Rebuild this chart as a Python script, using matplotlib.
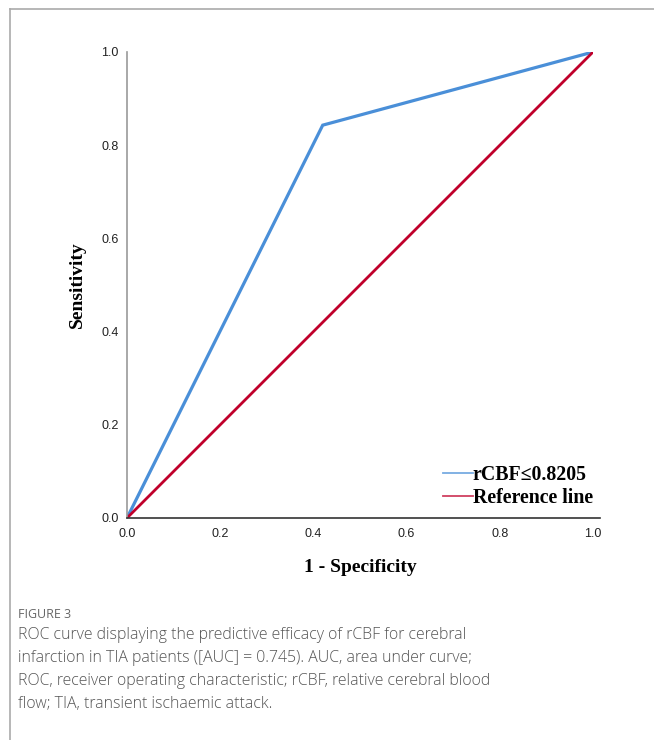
import matplotlib
matplotlib.use("Agg")
import matplotlib.pyplot as plt
from matplotlib.lines import Line2D

# ROC points
fpr = [0.0, 0.42, 1.0]
tpr = [0.0, 0.843, 1.0]
ref_x = [0.0, 1.0]
ref_y = [0.0, 1.0]
ticks = [0.0, 0.2, 0.4, 0.6, 0.8, 1.0]
tick_labels = ["0.0", "0.2", "0.4", "0.6", "0.8", "1.0"]

caption_head = "FIGURE 3"
caption_body = ("ROC curve displaying the predictive efficacy of rCBF for cerebral\n"
                "infarction in TIA patients ([AUC] = 0.745). AUC, area under curve;\n"
                "ROC, receiver operating characteristic; rCBF, relative cerebral blood\n"
                "flow; TIA, transient ischaemic attack.")

fig = plt.figure(figsize=(6.54, 7.4), dpi=100, facecolor='w')
ax = fig.add_axes([127/654, 1-518/740, 466/654, 466/740])

ax.plot(fpr, tpr, color='#4a8fd8', lw=2.3, label='rCBF\u22640.8205', solid_joinstyle='miter')
ax.plot(ref_x, ref_y, color='#c0002b', lw=2.0, label='Reference line')

ax.set_xlim(0, 1)
ax.set_ylim(0, 1)
ax.set_xticks(ticks)
ax.set_xticklabels(tick_labels)
ax.set_yticks(ticks)
ax.set_yticklabels(tick_labels)
ax.tick_params(length=0, labelsize=9, colors='#222222')
ax.tick_params(axis='x', pad=7)
ax.tick_params(axis='y', pad=6)
for lab in ax.get_xticklabels() + ax.get_yticklabels():
    lab.set_family('Liberation Sans')

for spine in ('top', 'right'):
    ax.spines[spine].set_visible(False)
ax.spines['left'].set_color('#999999')
ax.spines['left'].set_linewidth(1.2)
ax.spines['bottom'].set_color('#333333')
ax.spines['bottom'].set_linewidth(1.2)
ax.spines['bottom'].set_bounds(0, 1.015)

ax.set_xlabel('1 - Specificity', family='Liberation Serif', fontweight='bold',
              fontsize=14, labelpad=14)
ax.set_ylabel('Sensitivity', family='Liberation Serif', fontweight='bold',
              fontsize=14, labelpad=11)

leg = ax.legend(loc='lower right', bbox_to_anchor=(1.0, 0.022), frameon=False,
                prop={'family': 'Liberation Serif', 'size': 14.3, 'weight': 'bold'},
                handlelength=1.5, handletextpad=0.0, labelspacing=0.15,
                borderaxespad=0, borderpad=0)
for h in leg.get_lines():
    h.set_linewidth(1.3)
    h.set_alpha(0.75)

# page frame
fig.add_artist(Line2D([10/654, 1], [1-9/740, 1-9/740], color='#aaaaaa', lw=1.2))
fig.add_artist(Line2D([10/654, 10/654], [0, 1-9/740], color='#aaaaaa', lw=1.2))

fig.text(18/654, 1-614/740, caption_head, family='Open Sans', fontsize=9,
         color='#666666', va='center')
fig.text(18/654, 1-627/740, caption_body, family='Open Sans', fontweight='light',
         fontsize=11.4, color='#555555', va='top', linespacing=1.57)

fig.savefig('out.png', dpi=100, facecolor='w')
